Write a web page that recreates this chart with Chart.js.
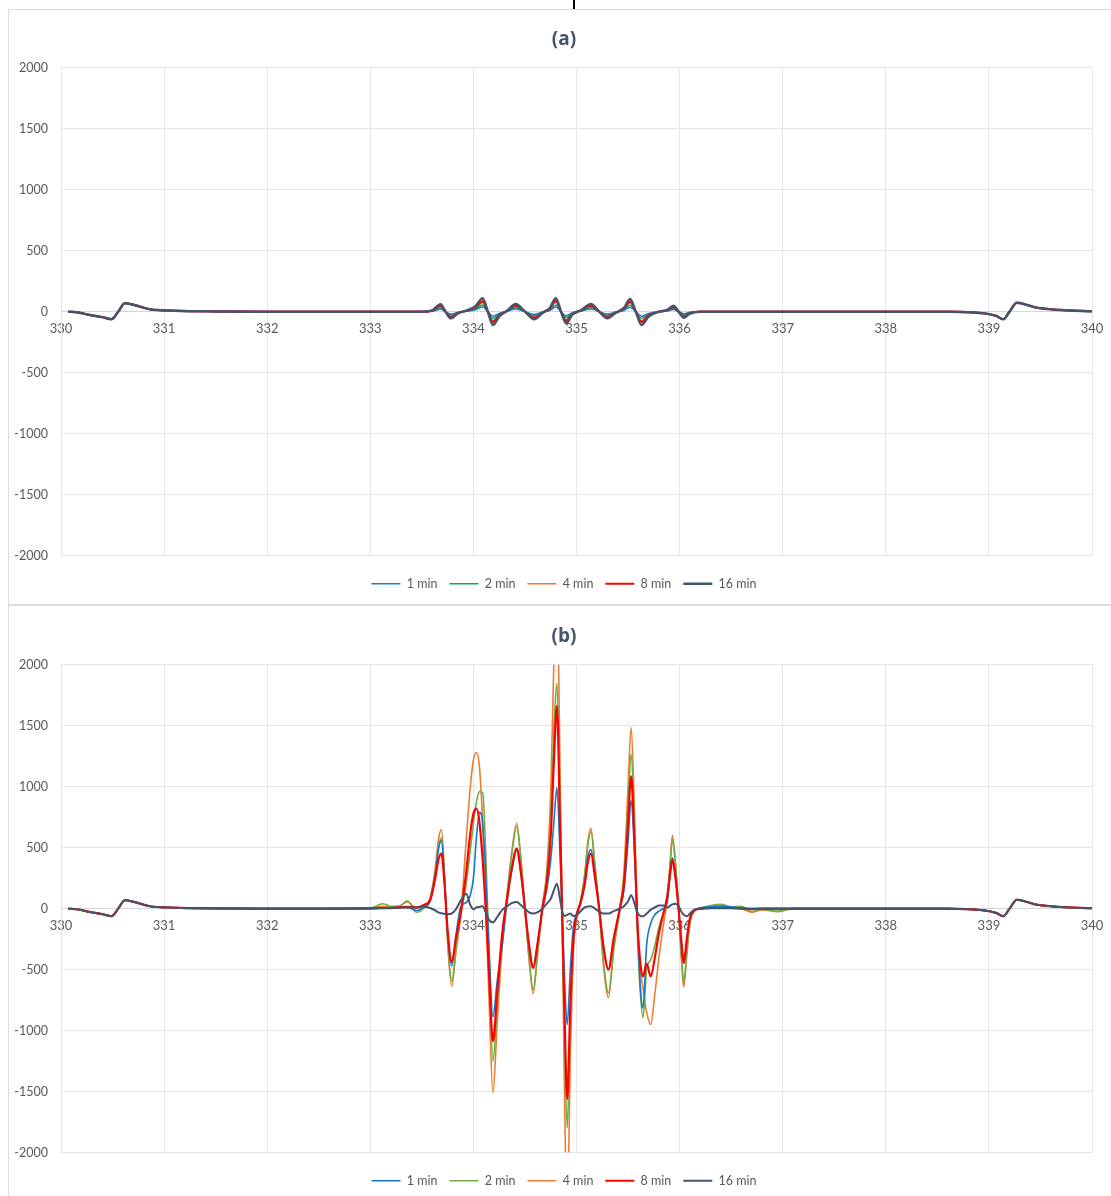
<!DOCTYPE html>
<html><head><meta charset="utf-8">
<script src="https://cdn.jsdelivr.net/npm/chart.js@4.4.1/dist/chart.umd.min.js"></script>
<style>
html,body{margin:0;padding:0;background:#fff;width:1111px;height:1196px;overflow:hidden;position:relative;font-family:Lato,sans-serif;}
.panel{position:absolute;left:8px;width:1112px;border:1px solid #d9dee5;box-sizing:border-box;background:#fff;overflow:hidden;}
#pa{top:9px;height:596px;}
#pb{top:605px;height:600px;}
canvas{position:absolute;left:0;top:0;}
#cb{top:1px;}
#mark{position:absolute;left:573px;top:0;width:2px;height:9px;background:#000;z-index:5;}
</style></head><body>
<div class="panel" id="pa"><canvas id="ca" width="1110" height="594"></canvas></div>
<div class="panel" id="pb"><canvas id="cb" width="1110" height="594"></canvas></div>
<div id="mark"></div>
<script>
// ---------- shared ticks / labels ----------
const seriesLabels = ['1 min','2 min','4 min','8 min','16 min'];
const xTickValues = [330,331,332,333,334,335,336,337,338,339,340];
const yTickValues = [-2000,-1500,-1000,-500,0,500,1000,1500,2000];

// ---------- panel (a) ----------
const xA = [330.07,330.15,330.28,330.40,330.49,330.555,330.62,330.71,330.86,331.1,331.5,332.0,
  333.0,333.5,333.6,333.68,333.73,333.78,333.85,333.95,334.02,334.09,334.14,334.19,334.25,334.33,334.41,334.5,334.59,334.67,334.74,334.8,334.85,334.9,334.96,335.05,335.14,335.22,335.3,335.38,335.46,335.52,335.575,335.63,335.7,335.8,335.88,335.94,335.99,336.04,336.1,336.2,
  336.5,337.0,338.0,338.62,338.95,339.07,339.14,339.2,339.27,339.37,339.46,339.69,340.0];
const a1min = [0,-5,-27,-45,-62,0,69,55,20,8,2,0,
  0,0,3,20,0,-20,-5,5,15,38,0,-38,-14,3,22,0,-22,-3,10,38,0,-33,-8,5,22,0,-20,-3,10,36,0,-38,-14,0,5,17,0,-17,-5,0,
  0,0,0,0,-14,-35,-62,0,72,55,33,14,3];
const a2min = [0,-5,-27,-45,-62,0,69,55,20,8,2,0,
  0,0,5,30,0,-28,-8,8,22,55,0,-55,-20,5,32,0,-32,-5,15,55,0,-48,-12,8,32,0,-28,-5,15,52,0,-55,-20,0,8,25,0,-25,-8,0,
  0,0,0,0,-14,-35,-62,0,72,55,33,14,3];
const a4min = [0,-5,-27,-45,-62,0,69,55,20,8,2,0,
  0,0,7,42,0,-38,-10,10,32,75,0,-75,-28,7,44,0,-44,-7,21,77,0,-66,-18,10,44,0,-38,-7,21,72,0,-75,-28,0,10,34,0,-35,-10,0,
  0,0,0,0,-14,-35,-62,0,72,55,33,14,3];
const a8min = [0,-5,-27,-45,-62,0,69,55,20,8,2,0,
  0,0,8,48,0,-44,-12,12,36,85,0,-85,-30,8,50,0,-50,-8,24,88,0,-75,-20,12,50,0,-44,-8,24,82,0,-85,-32,0,12,39,0,-40,-12,0,
  0,0,0,0,-14,-35,-62,0,72,55,33,14,3];
const a16min = [0,-5,-27,-45,-62,0,69,55,20,8,2,0,
  0,0,10,60,0,-55,-15,15,45,110,0,-110,-40,10,63,0,-63,-10,30,110,0,-95,-25,15,63,0,-55,-10,30,104,0,-110,-40,0,15,49,0,-50,-15,0,
  0,0,0,0,-14,-35,-62,0,72,55,33,14,3];

// ---------- panel (b) ----------
const xB = [330.07,330.15,330.28,330.40,330.49,330.555,330.62,330.71,330.86,331.1,331.5,332.0,
  332.5,333.0,333.12,333.2,333.28,333.36,333.45,333.52,333.58,333.63,333.66,333.69,333.72,333.75,333.79,333.83,333.88,333.93,333.97,334.0,334.03,334.06,334.09,334.12,334.15,334.19,334.23,334.28,334.33,334.37,334.42,334.46,334.5,334.54,334.58,334.62,334.67,334.71,334.75,334.78,334.81,334.84,334.86,334.885,334.91,334.94,334.97,335.0,335.04,335.08,335.11,335.14,335.18,335.22,335.26,335.31,335.36,335.42,335.46,335.5,335.53,335.56,335.59,335.62,335.645,335.68,335.72,335.76,335.8,335.84,335.88,335.91,335.93,335.96,335.99,336.02,336.04,336.07,336.1,336.14,336.2,336.3,336.4,336.5,336.6,336.7,336.8,336.95,337.1,
  337.5,338.0,338.6,338.95,339.07,339.14,339.2,339.27,339.37,339.46,339.69,340.0];
const b1min = [0,-5,-27,-45,-62,0,69,55,20,8,2,0,
  0,0,5,5,10,10,-15,10,60,280,480,560,240,-200,-470,-220,20,50,110,250,590,790,700,250,-300,-888,-600,-300,80,300,480,300,0,-300,-480,-300,0,150,400,700,992,450,0,-600,-951,-500,-150,-40,40,220,420,484,280,0,-300,-500,-250,0,150,550,888,500,-100,-650,-815,-300,-120,-50,-20,0,50,300,418,270,0,-300,-450,-260,-80,-15,5,15,20,15,5,0,0,0,0,
  0,0,0,-14,-35,-62,0,72,55,33,14,3];
const b2min = [0,-5,-27,-45,-62,0,69,55,20,8,2,0,
  0,5,40,20,20,65,-30,5,80,300,500,582,250,-250,-596,-340,-40,200,480,700,880,960,950,450,-300,-1252,-800,-250,120,430,672,400,0,-400,-664,-380,20,250,750,1450,1850,800,0,-1150,-1800,-900,-300,-70,70,280,520,633,330,0,-420,-690,-330,0,250,850,1270,700,-200,-700,-895,-500,-420,-300,-150,-40,80,380,566,360,0,-420,-600,-350,-110,-20,5,25,35,15,20,-25,-5,-20,0,
  0,0,0,-14,-35,-62,0,72,55,33,14,3];
const b4min = [0,-5,-27,-45,-62,0,69,55,20,8,2,0,
  0,5,20,12,20,55,5,25,90,330,560,648,280,-280,-637,-360,-30,560,1000,1220,1281,1150,700,0,-700,-1510,-950,-300,150,450,697,420,0,-420,-697,-400,30,300,950,2000,2700,1150,0,-1600,-2500,-1250,-350,-80,60,280,550,656,350,0,-450,-730,-350,0,300,1000,1486,850,-100,-500,-650,-850,-950,-700,-400,-150,80,400,601,380,0,-450,-642,-380,-120,-25,0,20,30,10,0,-30,-10,-25,0,
  0,0,0,-14,-35,-62,0,72,55,33,14,3];
const b8min = [0,-5,-27,-45,-62,0,69,55,20,8,2,0,
  0,2,5,5,10,15,10,30,70,250,400,451,200,-180,-440,-250,-20,300,620,780,820,700,400,0,-500,-1088,-700,-200,100,320,492,300,0,-300,-487,-300,0,200,590,1200,1664,700,0,-900,-1560,-800,-250,-60,50,200,380,451,250,0,-300,-500,-250,0,200,700,1085,600,-100,-450,-555,-450,-555,-400,-200,-50,100,300,402,250,0,-300,-445,-250,-80,-15,0,5,5,5,0,-5,0,0,0,
  0,0,0,-14,-35,-62,0,72,55,33,14,3];
const b16min = [0,-5,-27,-45,-62,0,69,55,20,8,2,0,
  0,2,5,5,8,10,10,15,5,-15,-30,-38,-42,-45,-40,-5,70,123,30,-5,10,15,20,-30,-90,-112,-70,-10,20,45,55,30,0,-30,-40,-30,0,40,80,150,205,80,-20,-60,-50,-40,-60,-55,-20,10,18,20,0,-25,-40,-40,-20,0,20,60,110,50,-30,-60,-63,-40,-10,10,25,25,10,25,35,40,20,-30,-50,-63,-40,-10,0,5,5,5,3,0,0,0,0,
  0,0,0,-14,-35,-62,0,72,55,33,14,3];

// ---------- styles ----------
const colorsA = ['#1a7fd0','#00b050','#ed7d31','#ff0000','#44546a'];
const colorsB = ['#1677cc','#70ad47','#ed7d31','#ff0000','#44546a'];
const widthsA = [1.5,1.5,1.5,2.2,2.5];
const widthsB = [1.6,1.6,1.6,2.2,2.0];
const drawOrder = [2,3,4,1,0]; // 16 min on top, then 8 min, 1 min, 2 min, 4 min
const txt = '#595959';
const gridC = '#e3e6eb';

function build(canvasId, title, xs, series, colors, widths) {
  const datasets = series.map((arr, k) => ({
    label: seriesLabels[k],
    data: xs.map((x, i) => ({x: x, y: arr[i]})),
    borderColor: colors[k],
    backgroundColor: colors[k],
    borderWidth: widths[k],
    pointRadius: 0,
    fill: false,
    cubicInterpolationMode: 'monotone',
    order: drawOrder[k]
  }));
  return new Chart(document.getElementById(canvasId), {
    type: 'line',
    data: {datasets},
    options: {
      responsive: false, animation: false, devicePixelRatio: 1,
      layout: {padding: {left: 0, right: 0, top: 0, bottom: 4}},
      plugins: {
        title: {display: true, text: title, color: '#44546a',
          font: {family: "'Open Sans', 'Noto Sans', sans-serif", size: 19, weight: 'bold'}, padding: {top: 18, bottom: 17}},
        legend: {position: 'bottom',
          labels: {usePointStyle: true, pointStyle: 'line', pointStyleWidth: 29, boxHeight: 12,
            font: {family: 'Lato', size: 12.5}, color: txt, padding: 12,
            sort: (a, b) => a.datasetIndex - b.datasetIndex},
          title: {display: true, text: '', padding: {top: 9, bottom: 0}, font: {size: 1, lineHeight: 1}}},
        tooltip: {enabled: false}
      },
      scales: {
        x: {type: 'linear', position: {y: 0}, min: 330, max: 340,
          afterBuildTicks: s => { s.ticks = xTickValues.map(v => ({value: v})); },
          grid: {color: gridC, drawTicks: false},
          border: {color: '#d3d7dd'},
          ticks: {padding: 9, color: txt, font: {family: 'Lato', size: 13}, maxRotation: 0, autoSkip: false,
            callback: v => String(v)}},
        y: {type: 'linear', min: -2000, max: 2000,
          afterBuildTicks: s => { s.ticks = yTickValues.map(v => ({value: v})); },
          afterFit: s => { s.width = 52; },
          grid: {color: gridC, drawTicks: false},
          border: {color: gridC},
          ticks: {padding: 13, color: txt, font: {family: 'Lato', size: 12.5}, callback: v => String(v)}},
        yRight: {type: 'linear', position: 'right', display: true, min: -2000, max: 2000,
          afterFit: s => { s.width = 27; },
          grid: {display: false, drawOnChartArea: false}, border: {display: false},
          ticks: {display: false}}
      }
    }
  });
}

build('ca', '(a)', xA, [a1min, a2min, a4min, a8min, a16min], colorsA, widthsA);
build('cb', '(b)', xB, [b1min, b2min, b4min, b8min, b16min], colorsB, widthsB);
</script>
</body></html>
